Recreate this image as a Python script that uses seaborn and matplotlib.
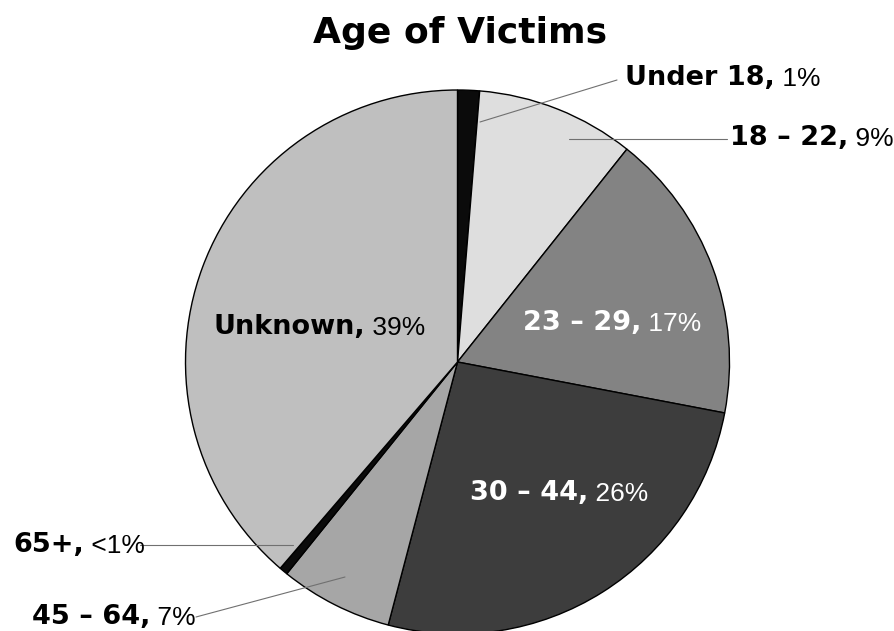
import numpy as np
import matplotlib
matplotlib.use("Agg")
import matplotlib.pyplot as plt
import seaborn as sns

# values (percent of victims)
groups = ["Under 18", "18 – 22", "23 – 29", "30 – 44", "45 – 64", "65+", "Unknown"]
shares = [1.3, 9.4, 17.3, 26.1, 6.7, 0.5, 38.7]
pct_text = ["1%", "9%", "17%", "26%", "7%", "<1%", "39%"]
colors = ["#0b0b0b", "#dedede", "#838383", "#3d3d3d", "#a6a6a6", "#0b0b0b", "#bfbfbf"]

sns.set_theme(style="white")
plt.rcParams["font.family"] = ["Liberation Sans", "DejaVu Sans"]
plt.rcParams["text.color"] = "black"

W, H = 894, 631
fig = plt.figure(figsize=(W / 100, H / 100), dpi=100)
cx, cy, r = 457.5, 362, 272
ax = fig.add_axes([(cx - r) / W, (H - cy - r) / H, 2 * r / W, 2 * r / H])

wedges, _ = ax.pie(shares, colors=colors, startangle=90, counterclock=False,
                   radius=1, wedgeprops=dict(edgecolor="black", linewidth=1.0))
ax.set_xlim(-1, 1)
ax.set_ylim(-1, 1)
ax.axis("off")


def px(x, y):
    # pixel position in the picture -> data coords of the pie axes
    return (x - cx) / r, (cy - y) / r


# text label positions (left edge, vertical centre) in picture pixels
label_pos = {0: (625, 78), 1: (730, 138), 2: (523, 323), 3: (470, 493),
             4: (32, 617), 5: (13, 545), 6: (213, 327)}
white = {2, 3}

for i, (g, p) in enumerate(zip(groups, pct_text)):
    col = "white" if i in white else "black"
    x, y = px(*label_pos[i])
    t = ax.text(x, y, g + ",", fontsize=19.5, fontweight="bold", color=col,
                family="DejaVu Sans", ha="left", va="center", clip_on=False)
    ax.annotate(" " + p, xy=(1, 0), xycoords=t, va="bottom", ha="left",
                fontsize=19, color=col, annotation_clip=False)

# leader lines (slice end -> label end), picture pixels
lc = "#707070"
leaders = [((480, 122), (617, 80)),
           ((569, 139), (727, 139)),
           ((293, 545), (140, 545)),
           ((345, 577), (196, 617))]
for a, b in leaders:
    (x0, y0), (x1, y1) = px(*a), px(*b)
    ax.plot([x0, x1], [y0, y1], color=lc, lw=0.8, clip_on=False)

fig.text(0.515, 1 - 33 / H, "Age of Victims", ha="center", va="center",
         fontsize=26, fontweight="heavy", family="DejaVu Sans")

fig.savefig("out.png", dpi=100, facecolor="white")
